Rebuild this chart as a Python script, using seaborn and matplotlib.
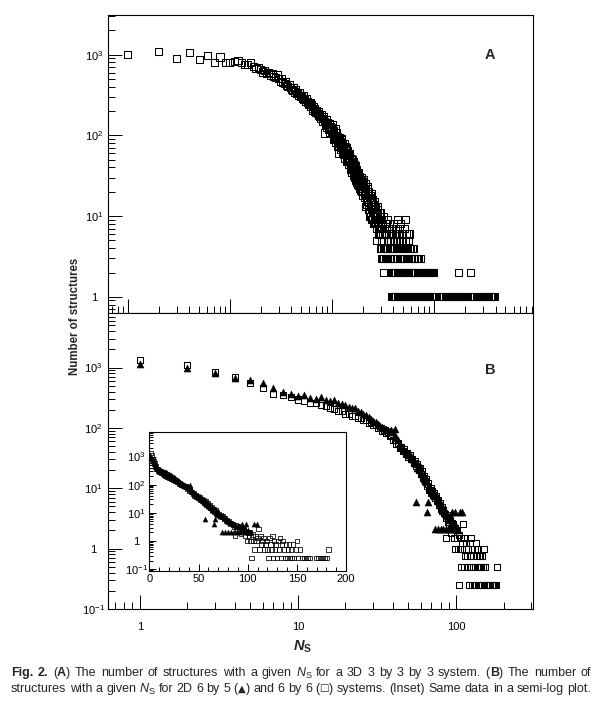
import numpy as np
import pandas as pd
import matplotlib
matplotlib.use("Agg")
import matplotlib.pyplot as plt
import seaborn as sns
from matplotlib.ticker import LogLocator, NullFormatter, MultipleLocator
from matplotlib.transforms import IdentityTransform


# 1 Data

# panel A: 3D 3 by 3 by 3 system, count of structures per N_S
a_head_ns = list(range(1, 20))
a_head_counts = [1000, 1100, 890, 1070, 870, 970, 800, 935, 800, 800,
                 825, 850, 790, 760, 750, 790, 720, 680, 690]

a_mid_ns = list(range(20, 101))
a_mid_counts = [650, 610, 630, 590, 600, 560, 580, 540, 520, 560,
                500, 470, 510, 455, 440, 470, 420, 400, 430, 390,
                375, 360, 395, 345, 370, 330, 340, 310, 335, 300,
                305, 290, 315, 275, 280, 265, 290, 255, 260, 240,
                245,
                255, 230, 240, 215, 205, 225, 215, 200, 190, 205,
                195, 185, 175, 195, 180, 170, 160, 180, 170, 160,
                150, 170, 160, 150, 107, 145, 135, 155, 125, 135,
                145, 128, 120, 140, 110, 118, 130, 125, 118, 112]

a_band_ns = list(range(102, 201, 2))
a_band_counts = [105, 115, 98, 100, 92, 96, 86, 90, 80, 84,
                 76, 70, 78, 66, 68, 62, 66, 58, 61, 56,
                 52, 57, 48, 50, 47, 44, 50, 40, 43, 38,
                 41, 35, 39, 33, 36, 30, 34, 28, 32, 29,
                 27, 31, 26, 28, 24, 27, 22, 25, 23, 21]
a_spread_ns = [101, 103, 105, 107, 109, 111, 113, 115, 117, 119, 121, 123, 125, 127, 129,
               131, 133, 135, 137, 139, 141, 143, 145, 147, 149, 151, 153, 155, 157, 159,
               161, 163, 165, 167, 169, 171, 173, 175, 177, 179, 181, 183, 185, 187, 189,
               191, 193, 195, 197, 199]
a_spread_counts = [135, 90, 88, 120, 82, 108, 72, 60, 75, 95, 66, 90, 92, 60, 58,
                   80, 52, 72, 70, 48, 47, 65, 44, 60, 58, 38, 38, 52, 35, 50,
                   48, 32, 30, 44, 28, 42, 38, 26, 25, 35, 24, 35, 30, 22, 21,
                   28, 20, 30, 27, 18]

a_late_ns = list(range(203, 300, 3))
a_late_counts = [24, 19, 22, 18, 21, 16, 19, 15, 18, 14,
                 17, 13, 16, 12, 15, 11, 14, 11, 13, 10,
                 12, 10, 11, 9, 11, 8, 10, 8, 9, 7,
                 9, 7, 8]
a_late2_ns = [201, 205, 208, 211, 214, 217, 220, 223, 226, 229, 232, 235, 238, 240, 241,
              244, 247, 250, 253, 256, 259, 262, 265, 268, 271, 277, 280, 283, 286, 289,
              292, 295, 298]
a_late2_counts = [28, 27, 17, 25, 13, 14, 22, 23, 12, 20, 11, 10, 18, 10, 19,
                  9, 16, 9, 8, 14, 15, 8, 13, 8, 7, 13, 12, 7, 6, 11,
                  6, 11, 10]

a_tail_ns = [302, 305, 308, 312, 316, 320, 325, 330, 335, 340,
             345, 350, 356, 362, 368, 375, 382, 390, 398, 405,
             415, 425, 435, 445, 460, 470, 475, 490, 510, 520,
             540, 560, 580]
a_tail_counts = [6, 9, 7, 8, 6, 10, 7, 6, 8, 7,
                 6, 9, 6, 7, 8, 6, 7, 6, 8, 6,
                 7, 6, 9, 6, 7, 8, 6, 6, 7, 9,
                 6, 6, 6]

# rows of equal count at large N_S
a_fives_ns = [274, 303, 322, 347, 372, 402, 432, 462, 492, 523, 562]
a_fours_ns = [301, 309, 318, 325, 332, 343, 352, 362, 373, 383, 392, 403, 412, 424, 437,
              450, 463, 478, 493, 508, 525, 538, 552, 571, 592, 608, 625]
a_threes_ns = [304, 313, 323, 333, 342, 353, 363, 375, 387, 400, 413, 427, 442, 457, 472,
               487, 502, 517, 532, 548, 565, 583, 602, 621, 642, 665, 690, 710, 730]
a_twos_ns = [317, 381, 392, 401, 412, 422, 435, 447, 461, 474, 486, 497, 510, 522, 537,
             551, 567, 582, 598, 612, 631, 647, 665, 682, 703, 722, 743, 762, 783, 802,
             828, 852, 878, 902, 928, 952, 973, 992, 1750, 2250]
a_ones_ns = [384, 394, 403, 413, 423, 434, 446, 458, 471, 487, 503, 518, 533, 548, 563,
             578, 593, 610, 627, 644, 662, 682, 702, 722, 742, 762, 782, 807, 832, 857,
             882, 907, 932, 962, 993, 1150, 1180, 1210, 1245, 1280, 1315, 1350, 1390,
             1430, 1470, 1510, 1555, 1600, 1650, 1700, 1745, 1800, 1850, 1900, 1950,
             2000, 2060, 2120, 2380, 2440, 2500, 2575, 2650, 2725, 2800, 2885, 2970,
             3060, 3150, 3240, 3330, 3430, 3530, 3635, 3740, 3820, 3900]

# panel B: 2D 6 by 6 (squares)
b_sq_ns = list(range(1, 85)) + list(range(85, 148)) + [149, 150, 151, 153, 155, 157, 159,
                                                        161, 163, 170, 172, 174, 176, 178, 180, 182]
b_sq_counts = [1350, 1090, 830, 690, 560, 450, 370, 355, 325, 295,
               282, 262, 255, 236, 230, 212, 208, 192, 188, 172,
               170, 158, 160, 146, 147, 134, 135, 122, 123, 110,
               112, 100, 100, 90, 92, 82, 84, 74, 75, 63,
               64, 55, 56, 47, 49, 41, 44, 37, 39, 33,
               36, 30, 31, 26, 28, 23, 25, 20, 22, 17.5,
               19, 15, 16, 13, 14, 11, 12, 9.5, 10.2, 8.5,
               9, 7.6, 8.2, 7, 7.4, 6.2, 6.4, 5.3, 5.6, 4.6,
               4.9, 4.2, 4.4, 3.9,
               3.8, 3.2, 1.5, 3.6, 2.8, 3.3, 2.5, 3.0, 1.8, 2.7,
               2.4, 2.6, 1.5, 2.2, 1.0, 2.0, 1.5, 2.0, 1.0, 0.25,
               1.7, 1.0, 0.5, 1.5, 1.0, 1.25, 2.6, 0.5, 1.5, 0.75,
               1.0, 1.25, 0.5, 0.75, 1.0, 0.5, 0.25, 1.25, 0.75, 0.5,
               1.5, 0.25, 1.0, 0.5, 0.75, 0.25, 1.0, 0.5, 1.25, 0.25,
               0.75, 1.0, 0.5, 0.25, 0.75, 0.25, 0.5, 0.75, 0.25, 0.5,
               0.25, 0.75, 0.25,
               0.5, 1.0, 0.25, 0.5, 0.25, 0.25, 0.25,
               0.25, 0.25, 0.25, 0.25, 0.25, 0.25, 0.25, 0.25, 0.5]

# panel B: 2D 6 by 5 (triangles)
b_tri_ns = list(range(1, 102)) + [103, 106, 109]
b_tri_counts = [1150, 1000, 800, 680, 630, 560, 450, 390, 370, 335,
                345, 315, 305, 320, 290, 280, 285, 255, 250, 240,
                225, 215, 210, 190, 185, 170, 165, 150, 142, 132,
                125, 116, 108, 104, 98, 95, 92, 88, 92, 86,
                95, 72, 62, 54, 50, 46, 43, 40, 38, 35,
                37, 32, 30, 27, 26, 6, 22, 21, 23, 18,
                17, 15.5, 14.5, 13, 12.5, 4.1, 6, 10.5, 9.8, 9,
                8.6, 8, 7.4, 2.1, 7.6, 6.6, 2.1, 6, 5.2, 2.1,
                4.8, 4.6, 2.1, 4.2, 3.9, 2.1, 3.7, 3.5, 2.1, 3.4,
                3.3, 2.1, 3.1, 4.1, 2.9, 2.1, 2.7, 4.1, 2.1, 2.4,
                2.1, 2.0, 4.1, 4.1]

a_df = pd.DataFrame({
    "ns": a_head_ns + a_mid_ns + a_band_ns + a_spread_ns + a_late_ns + a_late2_ns + a_tail_ns
          + a_fives_ns + a_fours_ns + a_threes_ns + a_twos_ns + a_ones_ns,
    "count": a_head_counts + a_mid_counts + a_band_counts + a_spread_counts + a_late_counts
             + a_late2_counts + a_tail_counts
             + [5] * len(a_fives_ns) + [4] * len(a_fours_ns) + [3] * len(a_threes_ns)
             + [2] * len(a_twos_ns) + [1] * len(a_ones_ns),
})
sq_df = pd.DataFrame({"ns": b_sq_ns, "count": b_sq_counts})
tri_df = pd.DataFrame({"ns": b_tri_ns, "count": b_tri_counts})


# 2 Figure setup

sns.set_style("white")
plt.rcParams["font.family"] = ["Liberation Sans", "DejaVu Sans"]
plt.rcParams["mathtext.fontset"] = "custom"
plt.rcParams["mathtext.rm"] = "Liberation Sans"
plt.rcParams["mathtext.it"] = "Liberation Sans:italic:bold"
plt.rcParams["mathtext.bf"] = "Liberation Sans:bold"

W, H = 602, 702
fig = plt.figure(figsize=(W / 100, H / 100), dpi=100)


def box(l, t, r, b):
    return [l / W, 1 - b / H, (r - l) / W, (b - t) / H]


def style_axes(ax, major_len, minor_len):
    for sp in ax.spines.values():
        sp.set_linewidth(0.8)
        sp.set_color("black")
    ax.tick_params(which="both", direction="in", bottom=True, left=True, top=False, right=False,
                   width=0.7, colors="black", labelsize=8)
    ax.tick_params(which="major", length=major_len)
    ax.tick_params(which="minor", length=minor_len)


def sci(e):
    if e == 0:
        return "1"
    return r"$\mathdefault{10^{%d}}$" % e


ax_a = fig.add_axes(box(108, 15, 533, 313))
ax_b = fig.add_axes(box(108, 313, 533, 609))
ax_in = fig.add_axes(box(149, 432, 346, 571))
ax_in.set_facecolor("white")


# 3 Panel A

ax_a.set_xscale("log")
ax_a.set_yscale("log")
sns.scatterplot(data=a_df, x="ns", y="count", marker="s", s=26,
                facecolor="none", edgecolor="black", linewidth=0.75, ax=ax_a)
ax_a.set_xlim(0.64, 9300)
ax_a.set_ylim(0.63, 3100)
style_axes(ax_a, 10, 5)
ax_a.set_xticks([1, 10, 100, 1000], ["1", "10", "100", "1000"])
ax_a.set_yticks([1, 10, 100, 1000], [sci(e) for e in range(4)], ha="center")
for axis in (ax_a.xaxis, ax_a.yaxis):
    axis.set_minor_locator(LogLocator(base=10, subs=np.arange(2, 10), numticks=100))
    axis.set_minor_formatter(NullFormatter())
ax_a.tick_params(axis="x", pad=6.5)
ax_a.tick_params(axis="y", pad=10)
ax_a.set_xlabel("")
ax_a.set_ylabel("")


# 4 Panel B

ax_b.set_xscale("log")
ax_b.set_yscale("log")
sns.scatterplot(data=sq_df, x="ns", y="count", marker="s", s=19,
                facecolor="none", edgecolor="black", linewidth=0.75, ax=ax_b)
sns.scatterplot(data=tri_df, x="ns", y="count", marker="^", s=26,
                color="black", edgecolor="black", linewidth=0.3, ax=ax_b)
ax_b.set_xlim(0.63, 307)
ax_b.set_ylim(0.1, 8000)
style_axes(ax_b, 10, 5)
ax_b.set_xticks([1, 10, 100], ["1", "10", "100"])
ax_b.set_yticks([0.1, 1, 10, 100, 1000], [sci(e) for e in range(-1, 4)], ha="center")
for axis in (ax_b.xaxis, ax_b.yaxis):
    axis.set_minor_locator(LogLocator(base=10, subs=np.arange(2, 10), numticks=100))
    axis.set_minor_formatter(NullFormatter())
ax_b.tick_params(axis="x", pad=9)
ax_b.tick_params(axis="y", pad=10.5)
ax_b.set_xlabel("")
ax_b.set_ylabel("")

# inset: same data, semi-log
ax_in.set_yscale("log")
sns.scatterplot(data=sq_df, x="ns", y="count", marker="s", s=10,
                facecolor="none", edgecolor="black", linewidth=0.55, ax=ax_in)
sns.scatterplot(data=tri_df, x="ns", y="count", marker="^", s=14,
                color="black", edgecolor="black", linewidth=0.2, ax=ax_in)
ax_in.set_xlim(-0.5, 200)
ax_in.set_ylim(0.085, 7500)
style_axes(ax_in, 5, 3)
ax_in.set_xticks([0, 50, 100, 150, 200], ["0", "50", "100", "150", "200"])
ax_in.xaxis.set_minor_locator(MultipleLocator(10))
ax_in.set_yticks([0.1, 1, 10, 100, 1000], [sci(e) for e in range(-1, 4)], ha="center")
ax_in.yaxis.set_minor_locator(LogLocator(base=10, subs=np.arange(2, 10), numticks=100))
ax_in.yaxis.set_minor_formatter(NullFormatter())
ax_in.tick_params(axis="x", pad=2.5)
ax_in.tick_params(axis="y", pad=9)
ax_in.set_xlabel("")
ax_in.set_ylabel("")


# 5 Labels

fig.text(490 / W, 1 - 55 / H, "A", ha="center", va="center", fontsize=10.5, fontweight="bold")
fig.text(490 / W, 1 - 370 / H, "B", ha="center", va="center", fontsize=10.5, fontweight="bold")
fig.text(75 / W, 1 - 316 / H, "Number of structures", rotation=90, ha="center", va="center",
         fontsize=8.3, fontweight="bold")
fig.text(303 / W, 1 - 647 / H, r"$N_{\mathbf{S}}$", ha="center", va="center", fontsize=10.5)

# caption, drawn word by word so bold, italic and symbols can mix (first line justified)
fs = 9.0
styles = {
    "n": (dict(fontsize=fs), 0),
    "b": (dict(fontsize=fs, fontweight="bold"), 0),
    "i": (dict(fontsize=fs, style="italic"), 0),
    "sub": (dict(fontsize=fs * 0.72), -2.5),
    "sym": (dict(fontsize=fs * 0.8, family=["DejaVu Sans"]), 0.5),
}
renderer = fig.canvas.get_renderer()
probe1 = fig.text(0, 0, "aa", fontsize=fs)
probe2 = fig.text(0, 0, "a a", fontsize=fs)
space_w = probe2.get_window_extent(renderer).width - probe1.get_window_extent(renderer).width
probe1.remove()
probe2.remove()


def caption_line(parts, x, y, width=None):
    tokens = []  # (text, style key, space before)
    for txt, key in parts:
        pieces = txt.split(" ")
        for k, piece in enumerate(pieces):
            gap = 0 if k == 0 else 1
            if piece == "":
                if gap:
                    tokens.append(("", key, 1))
                continue
            tokens.append((piece, key, gap))
    items = []
    n_spaces = 0
    natural = 0.0
    for piece, key, gap in tokens:
        n_spaces += gap
        natural += gap * space_w
        if piece == "":
            items.append((None, 0.0, gap))
            continue
        kw, dy = styles[key]
        t = fig.text(0, y + dy, piece, transform=IdentityTransform(),
                     ha="left", va="baseline", **kw)
        w = t.get_window_extent(renderer).width
        natural += w
        items.append((t, w, gap))
    extra = 0.0
    if width is not None and n_spaces:
        extra = (width - natural) / n_spaces
    for t, w, gap in items:
        x += gap * (space_w + extra)
        if t is not None:
            t.set_x(x)
            x += w


caption_line([("Fig. 2.", "b"), (" (", "n"), ("A", "b"),
              (") The number of structures with a given ", "n"), ("N", "i"), ("S", "sub"),
              (" for a 3D 3 by 3 by 3 system. (", "n"), ("B", "b"), (") The number of", "n")],
             11, H - 676, width=580)
caption_line([("structures with a given ", "n"), ("N", "i"), ("S", "sub"),
              (" for 2D 6 by 5 (", "n"), ("\u25B2", "sym"), (") and 6 by 6 (", "n"),
              ("\u25A1", "sym"), (") systems. (Inset) Same data in a semi-log plot.", "n")],
             11, H - 692)

fig.savefig("out.png", dpi=100)
